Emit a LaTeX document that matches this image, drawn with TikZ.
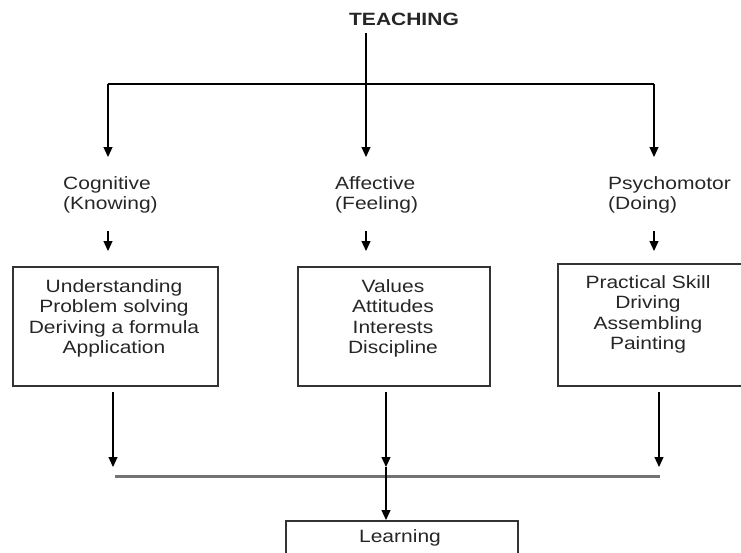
\documentclass[tikz,border=0pt]{standalone}
\usepackage{fontspec}
\setmainfont{Liberation Sans}[FakeStretch=1.18]
\usetikzlibrary{arrows.meta,positioning}

\begin{document}
\begin{tikzpicture}[x=1pt,y=-1pt,
		>={Triangle[length=10pt,width=9pt]},
		txt/.style={font=\fontsize{17.8}{20.6}\selectfont,text=black!85,inner sep=0pt},
		lbl/.style={txt,align=left,anchor=north west},
		boite/.style={draw=black!80,line width=1.8pt,anchor=north west,inner sep=0pt},
		fleche/.style={->,line width=1.2pt}]
					\useasboundingbox (0,0) rectangle (741,552);
					
					%TEACHING
					\node[txt,font=\fontsize{17.8}{20.6}\selectfont\bfseries] (teach) at (404,19) {TEACHING};
					\coordinate (T) at (366,33);
					\coordinate (S) at (366,84);
					\coordinate (SL) at (108,84);
					\coordinate (SR) at (654,84);
					\draw[line width=1.2pt] (SL) -- (SR);
					
					% domaines
					\node[lbl] (cog) at (63,176) {Cognitive\\(Knowing)};
					\node[lbl] (aff) at (335,176) {Affective\\(Feeling)};
					\node[lbl] (psy) at (608,176) {Psychomotor\\(Doing)};
					\draw[fleche] (T) -- (366,157) coordinate (a2);
					\draw[fleche] (SL) -- (108,157) coordinate (a1);
					\draw[fleche] (SR) -- (654,157) coordinate (a3);
					
					% petites fleches
					\draw[fleche] (108,231) coordinate (p1) -- (108,251);
					\draw[fleche] (366,231) coordinate (p2) -- (366,251);
					\draw[fleche] (654,231) coordinate (p3) -- (654,251);
					
					%boites
					\node[boite,minimum width=205pt,minimum height=119pt] (cogbox) at (12,266) {};
					\node[boite,minimum width=192pt,minimum height=119pt] (affbox) at (297,266) {};
					\node[boite,minimum width=190pt,minimum height=122pt] (psybox) at (557,263) {};
					\node[txt,align=center,anchor=north] (cogtxt) at (114,279)
						{Understanding\\Problem solving\\Deriving a formula\\Application};
					\node[txt,align=center,anchor=north] (afftxt) at (393,279)
						{Values\\Attitudes\\Interests\\Discipline};
					\node[txt,align=center,anchor=north] (psytxt) at (648,275)
						{Practical Skill\\Driving\\Assembling\\Painting};
					
					%vers Learning
					\coordinate (B1) at (113,467);
					\coordinate (B2) at (386,467);
					\coordinate (B3) at (659,467);
					\draw[fleche] (113,392) -- (B1);
					\draw[fleche] (386,392) -- (B2);
					\draw[fleche] (659,392) -- (B3);
					\draw[line width=3pt,black!55] (115,476) -- (660,476);
					\node[boite,minimum width=232pt,minimum height=50pt] (learn) at (285,520) {};
					\node[txt] (learntxt) at (400,538) {Learning};
					\draw[fleche] (B2) -- (learn.north -| B2);
				  \end{tikzpicture}
\end{document}
